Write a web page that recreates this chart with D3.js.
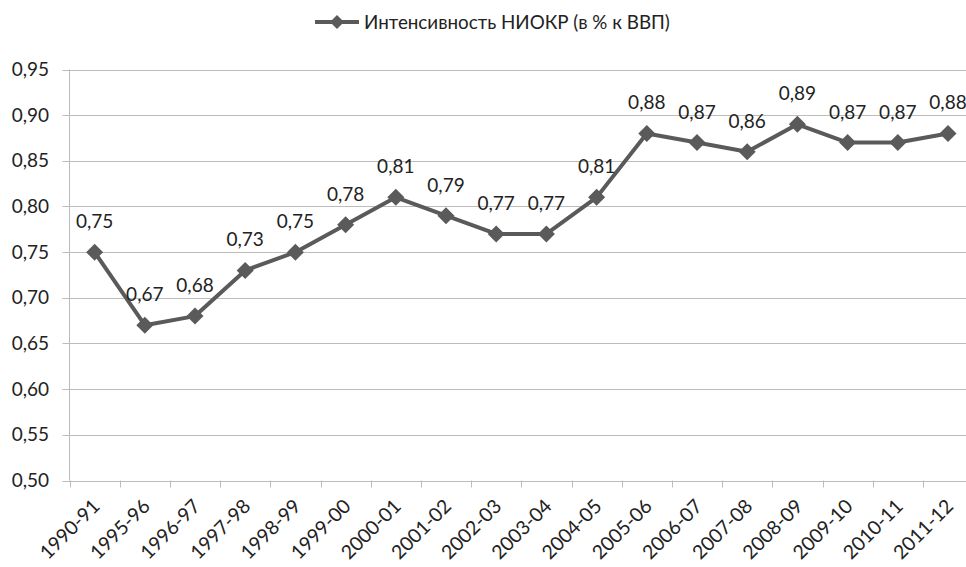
<!DOCTYPE html>
<html><head><meta charset="utf-8">
<script src="https://cdn.jsdelivr.net/npm/d3@7"></script>
<style>html,body{margin:0;padding:0;background:#fff;overflow:hidden}svg{display:block}</style>
</head><body>
<svg id="c" width="966" height="567"></svg>
<script>
const categories = ["1990-91","1995-96","1996-97","1997-98","1998-99","1999-00","2000-01","2001-02","2002-03","2003-04","2004-05","2005-06","2006-07","2007-08","2008-09","2009-10","2010-11","2011-12"];
const values = [0.75,0.67,0.68,0.73,0.75,0.78,0.81,0.79,0.77,0.77,0.81,0.88,0.87,0.86,0.89,0.87,0.87,0.88];
const yTicks = [0.50,0.55,0.60,0.65,0.70,0.75,0.80,0.85,0.90,0.95];
const seriesName = "Интенсивность НИОКР (в % к ВВП)";

(function(){
const FONT = "Lato, 'Open Sans', sans-serif";
const svg = d3.select("#c");
const mLeft = 69.5, mBottom = 480.5, mTop = 69.5;
const x = d3.scaleBand().domain(categories).range([mLeft, mLeft + 18*50.2]);
const y = d3.scaleLinear().domain([0.5, 0.95]).range([mBottom, mTop]);
const fmt = v => d3.format(".2f")(v).replace(".", ",");
const gridCol = "#bcbcbc", lineCol = "#5a5a5a";

svg.append("g").selectAll("line").data(yTicks).join("line")
  .attr("x1", mLeft - 7).attr("x2", 966)
  .attr("y1", d => Math.round(y(d)) + 0.5).attr("y2", d => Math.round(y(d)) + 0.5)
  .attr("stroke", gridCol).attr("stroke-width", 1);

svg.append("line").attr("x1", mLeft).attr("x2", mLeft).attr("y1", mTop).attr("y2", mBottom)
  .attr("stroke", gridCol);

const bounds = categories.map(c => x(c)).concat([x(categories[17]) + x.bandwidth()]);
svg.append("g").selectAll("line").data(bounds).join("line")
  .attr("x1", d => Math.round(d) + 0.5).attr("x2", d => Math.round(d) + 0.5)
  .attr("y1", mBottom).attr("y2", mBottom + 7)
  .attr("stroke", gridCol);

svg.append("g").selectAll("text").data(yTicks).join("text")
  .attr("x", 49).attr("y", d => y(d) + 6.5)
  .attr("text-anchor", "end").attr("font-family", FONT).attr("font-size", 19).attr("fill", "#222")
  .text(d => fmt(d));

svg.append("g").selectAll("text").data(categories).join("text")
  .attr("transform", d => `translate(${x(d) + x.bandwidth()/2 + 6.5},${mBottom + 27}) rotate(-45)`)
  .attr("text-anchor", "end").attr("font-family", FONT).attr("font-size", 19.5).attr("fill", "#222")
  .text(d => d);

const pts = categories.map((c, i) => [x(c) + x.bandwidth()/2, y(values[i])]);
svg.append("path").attr("d", d3.line()(pts)).attr("fill", "none")
  .attr("stroke", lineCol).attr("stroke-width", 4).attr("stroke-linejoin", "round");

const diamond = s => `M0,${-s}L${s},0L0,${s}L${-s},0Z`;
svg.append("g").selectAll("path").data(pts).join("path")
  .attr("transform", d => `translate(${d[0]},${d[1]})`).attr("d", diamond(8.5)).attr("fill", lineCol);

svg.append("g").selectAll("text").data(pts).join("text")
  .attr("x", d => d[0]).attr("y", d => d[1] - 24)
  .attr("text-anchor", "middle").attr("font-family", FONT).attr("font-size", 19).attr("fill", "#222")
  .text((d, i) => fmt(values[i]));

const lg = svg.append("g");
lg.append("line").attr("x1", 315).attr("x2", 359).attr("y1", 22).attr("y2", 22)
  .attr("stroke", lineCol).attr("stroke-width", 4);
lg.append("path").attr("transform", "translate(337,22)").attr("d", diamond(7)).attr("fill", lineCol);
lg.append("text").attr("x", 364).attr("y", 28.5).attr("font-family", FONT).attr("font-size", 18.8).attr("fill", "#222")
  .text(seriesName);
})();
</script>
</body></html>
